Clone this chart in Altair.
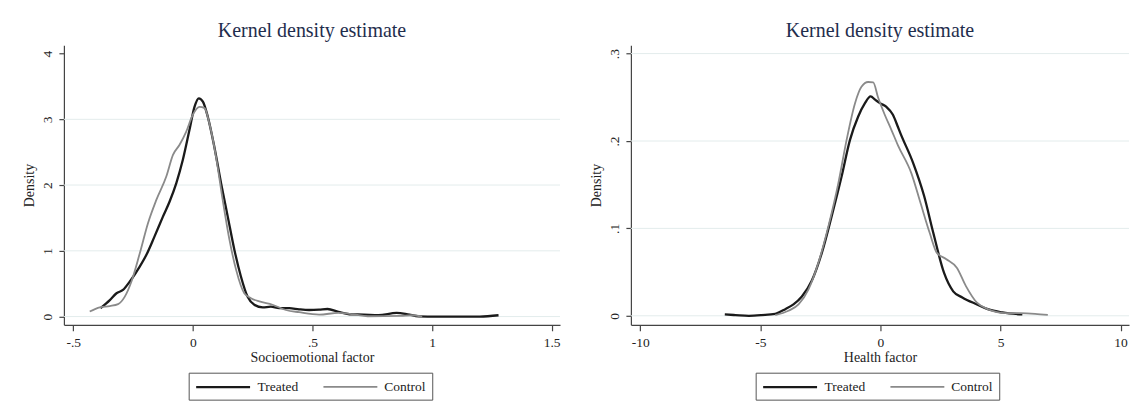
import altair as alt
import pandas as pd

# ---------------- Left panel: Socioemotional factor ----------------
se_treated_x = [-0.386, -0.347, -0.319, -0.292, -0.264, -0.222, -0.194, -0.160, -0.125, -0.097,
                -0.069, -0.042, -0.014, 0.007, 0.025, 0.042, 0.0625, 0.090, 0.118, 0.146,
                0.174, 0.201, 0.229, 0.257, 0.292, 0.326, 0.361, 0.403, 0.444, 0.486,
                0.528, 0.563, 0.609, 0.654, 0.715, 0.776, 0.852, 0.898, 0.944, 1.02,
                1.20, 1.278]
se_treated_y = [0.127, 0.25, 0.355, 0.405, 0.53, 0.76, 0.94, 1.22, 1.52, 1.75,
                2.03, 2.38, 2.84, 3.19, 3.32, 3.27, 3.04, 2.58, 2.03, 1.52,
                1.01, 0.61, 0.30, 0.18, 0.14, 0.15, 0.127, 0.127, 0.11, 0.10,
                0.105, 0.115, 0.07, 0.035, 0.03, 0.02, 0.056, 0.035, 0.003, 0.0,
                0.0, 0.02]
se_control_x = [-0.431, -0.389, -0.347, -0.3125, -0.285, -0.257, -0.222, -0.1875, -0.153, -0.111,
                -0.083, -0.056, -0.028, 0.0, 0.028, 0.049, 0.069, 0.097, 0.125, 0.153,
                0.181, 0.215, 0.243, 0.278, 0.333, 0.389, 0.444, 0.528, 0.609, 0.670,
                0.731, 0.868, 0.913, 0.959]
se_control_y = [0.076, 0.14, 0.16, 0.19, 0.30, 0.53, 0.96, 1.42, 1.77, 2.13,
                2.46, 2.61, 2.81, 3.07, 3.19, 3.17, 2.94, 2.43, 1.77, 1.17,
                0.71, 0.355, 0.28, 0.23, 0.18, 0.10, 0.066, 0.03, 0.056, 0.035,
                0.005, 0.01, 0.02, 0.0]
se_xticks = [-0.5, 0, 0.5, 1, 1.5]
se_yticks = [0, 1, 2, 3, 4]
se_grid = [0, 1, 2, 3]

# ---------------- Right panel: Health factor ----------------
h_treated_x = [-6.48, -6.04, -5.48, -4.93, -4.38, -3.96, -3.62, -3.27, -2.86, -2.44,
               -2.03, -1.62, -1.27, -0.925, -0.65, -0.41, -0.21, 0.0, 0.25, 0.52,
               0.73, 0.83, 1.36, 1.82, 2.20, 2.65, 3.03, 3.41, 4.02, 4.47,
               5.08, 5.91]
h_treated_y = [0.0015, 0.0008, 0.0, 0.0008, 0.0023, 0.0076, 0.013, 0.022, 0.040, 0.072,
               0.114, 0.159, 0.201, 0.228, 0.243, 0.251, 0.247, 0.243, 0.239, 0.230,
               0.216, 0.209, 0.175, 0.137, 0.095, 0.049, 0.028, 0.021, 0.013, 0.0076,
               0.0038, 0.0015]
h_control_x = [-4.38, -3.83, -3.41, -3.0, -2.58, -2.17, -1.75, -1.41, -1.06, -0.79,
               -0.51, -0.30, -0.10, 0.18, 0.46, 0.73, 1.29, 1.67, 2.05, 2.35,
               2.73, 3.18, 3.56, 4.02, 4.47, 5.23, 5.83, 6.44, 6.97]
h_control_y = [0.0008, 0.0057, 0.013, 0.030, 0.061, 0.102, 0.152, 0.201, 0.243, 0.262,
               0.2675, 0.267, 0.250, 0.230, 0.2125, 0.195, 0.163, 0.129, 0.095, 0.072,
               0.065, 0.055, 0.034, 0.015, 0.0076, 0.003, 0.003, 0.0023, 0.001]
h_xticks = [-10, -5, 0, 5, 10]
h_yticks = [0, 0.1, 0.2, 0.3]
h_grid = [0, 0.1, 0.2, 0.3]

groups = ["Treated", "Control"]
FONT = "Liberation Serif"
LABEL_EXPR = "replace(toString(datum.value), '0.', '.')"


def panel(tx, ty, cx, cy, xdom, ydom, xticks, yticks, gridvals, xtitle, width):
    df = pd.DataFrame({
        "x": list(tx) + list(cx),
        "y": list(ty) + list(cy),
        "group": ["Treated"] * len(tx) + ["Control"] * len(cx),
    })
    xs = alt.Scale(domain=xdom, nice=False, zero=False)
    ys = alt.Scale(domain=ydom, nice=False, zero=False)
    yaxis = alt.Axis(values=yticks, title="Density", grid=False, tickSize=5,
                     labelAngle=270, labelPadding=4, titlePadding=4,
                     labelExpr=LABEL_EXPR)
    grid = alt.Chart(pd.DataFrame({"y": gridvals})).mark_rule(
        color="#e3ecec", strokeWidth=1
    ).encode(y=alt.Y("y:Q", scale=ys, axis=yaxis))
    lines = alt.Chart(df).mark_line(interpolate="monotone").encode(
        x=alt.X("x:Q", scale=xs,
                axis=alt.Axis(values=xticks, title=xtitle, grid=False, tickSize=6,
                              labelPadding=5, titlePadding=1, labelExpr=LABEL_EXPR)),
        y=alt.Y("y:Q", scale=ys, axis=yaxis),
        color=alt.Color("group:N",
                        scale=alt.Scale(domain=groups, range=["#1a1a1a", "#8a8a8a"]),
                        legend=alt.Legend(orient="none", legendX=125, legendY=328,
                                          direction="horizontal", title=None,
                                          strokeColor="#555555", fillColor="white",
                                          padding=6,
                                          symbolType="M-1,0H6.714",
                                          symbolSize=196, symbolStrokeWidth=2,
                                          labelFont=FONT, labelFontSize=13.5,
                                          labelColor="#222222", labelOffset=46,
                                          columnPadding=21)),
        strokeWidth=alt.StrokeWidth("group:N",
                                    scale=alt.Scale(domain=groups, range=[2.3, 1.8]),
                                    legend=None),
    )
    return alt.layer(grid, lines).properties(
        width=width, height=280,
        title=alt.TitleParams("Kernel density estimate", font=FONT, fontSize=20,
                              fontWeight="normal", color="#1f2d4d", offset=4,
                              anchor="middle"),
    )


left = panel(se_treated_x, se_treated_y, se_control_x, se_control_y,
             [-0.539, 1.535], [-0.125, 4.126], se_xticks, se_yticks, se_grid,
             "Socioemotional factor", 497)
right = panel(h_treated_x, h_treated_y, h_control_x, h_control_y,
              [-10.39, 10.35], [-0.0103, 0.3095], h_xticks, h_yticks, h_grid,
              "Health factor", 499)

chart = alt.hconcat(left, right, spacing=29).resolve_legend(
    color="independent"
).resolve_scale(color="independent", strokeWidth="independent").properties(
    padding={"left": 15, "top": 13, "right": 0, "bottom": 0},
    background="white",
).configure_view(stroke=None).configure_axis(
    domainColor="#444444", tickColor="#444444", labelColor="#222222",
    titleColor="#222222", labelFont=FONT, titleFont=FONT, labelFontSize=13.5,
    titleFontSize=14, titleFontWeight="normal", domainWidth=1.2, tickWidth=1.2,
)

chart.save("out.html", embed_options={"renderer": "svg", "actions": False})
